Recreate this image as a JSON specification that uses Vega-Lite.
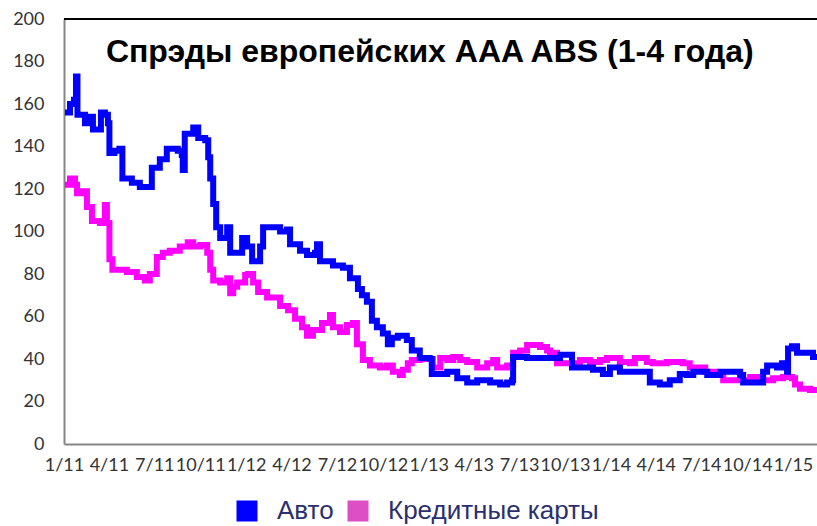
{
 "$schema": "https://vega.github.io/schema/vega-lite/v6.json",
 "width": 753, "height": 425,
 "autosize": {"type": "none"},
 "padding": {"left": 64, "top": 19, "right": 0, "bottom": 82},
 "background": "white",
 "config": {"view": {"stroke": null}},
 "datasets": {
  "auto": [
   {"date":"2011-01-03","v":156},{"date":"2011-01-13","v":160},{"date":"2011-01-21","v":162},{"date":"2011-01-25","v":173},{"date":"2011-01-28","v":155},
   {"date":"2011-02-12","v":151},{"date":"2011-02-22","v":154},{"date":"2011-02-28","v":148},{"date":"2011-03-08","v":148},{"date":"2011-03-16","v":156},
   {"date":"2011-03-24","v":155},{"date":"2011-03-30","v":151},{"date":"2011-04-02","v":137},{"date":"2011-04-12","v":138},{"date":"2011-04-22","v":139},
   {"date":"2011-04-28","v":125},{"date":"2011-05-17","v":123},{"date":"2011-06-02","v":121},{"date":"2011-06-22","v":121},{"date":"2011-06-26","v":130},
   {"date":"2011-07-12","v":134},{"date":"2011-07-26","v":139},{"date":"2011-08-17","v":138},{"date":"2011-08-25","v":136},{"date":"2011-08-27","v":129},
   {"date":"2011-08-31","v":146},{"date":"2011-09-17","v":149},{"date":"2011-09-27","v":144},{"date":"2011-10-11","v":143},{"date":"2011-10-17","v":135},
   {"date":"2011-10-21","v":125},{"date":"2011-10-27","v":113},{"date":"2011-11-02","v":102},{"date":"2011-11-10","v":97},{"date":"2011-11-24","v":102},
   {"date":"2011-11-30","v":90},{"date":"2011-12-14","v":90},{"date":"2011-12-24","v":97},{"date":"2012-01-03","v":93},{"date":"2012-01-13","v":86},
   {"date":"2012-01-23","v":86},{"date":"2012-01-29","v":93},{"date":"2012-02-04","v":102},{"date":"2012-02-22","v":102},{"date":"2012-03-09","v":100},
   {"date":"2012-03-23","v":101},{"date":"2012-03-29","v":94},{"date":"2012-04-18","v":91},{"date":"2012-05-02","v":89},{"date":"2012-05-18","v":90},
   {"date":"2012-05-22","v":94},{"date":"2012-05-28","v":86},{"date":"2012-06-23","v":84},{"date":"2012-07-13","v":83},{"date":"2012-07-27","v":78},
   {"date":"2012-08-12","v":73},{"date":"2012-08-20","v":70},{"date":"2012-08-30","v":67},{"date":"2012-09-09","v":58},{"date":"2012-09-19","v":55},
   {"date":"2012-10-01","v":52},{"date":"2012-10-11","v":47},{"date":"2012-10-19","v":50},{"date":"2012-10-31","v":51},{"date":"2012-11-18","v":49},
   {"date":"2012-11-28","v":44},{"date":"2012-12-14","v":40.5},{"date":"2013-01-03","v":40},{"date":"2013-01-07","v":33},{"date":"2013-01-24","v":33},
   {"date":"2013-02-07","v":34},{"date":"2013-02-27","v":31},{"date":"2013-03-19","v":29},{"date":"2013-04-08","v":30},{"date":"2013-05-04","v":29},
   {"date":"2013-05-24","v":28},{"date":"2013-06-07","v":29},{"date":"2013-06-17","v":30},{"date":"2013-06-19","v":41},{"date":"2013-07-17","v":40.5},
   {"date":"2013-08-26","v":40.5},{"date":"2013-09-21","v":42},{"date":"2013-10-07","v":42},{"date":"2013-10-15","v":36},{"date":"2013-10-31","v":36},
   {"date":"2013-11-26","v":35},{"date":"2013-12-16","v":33},{"date":"2013-12-30","v":36},{"date":"2014-01-19","v":34},{"date":"2014-02-28","v":34},
   {"date":"2014-03-14","v":34},{"date":"2014-03-20","v":29},{"date":"2014-04-09","v":28},{"date":"2014-04-29","v":30},{"date":"2014-05-13","v":30},
   {"date":"2014-05-19","v":33},{"date":"2014-06-02","v":32.5},{"date":"2014-06-15","v":34},{"date":"2014-07-13","v":32.5},{"date":"2014-08-08","v":34},
   {"date":"2014-09-17","v":32.5},{"date":"2014-09-23","v":29},{"date":"2014-10-17","v":29},{"date":"2014-11-02","v":34},{"date":"2014-11-10","v":37},
   {"date":"2014-11-30","v":36},{"date":"2014-12-10","v":38},{"date":"2014-12-20","v":34},{"date":"2014-12-22","v":45},{"date":"2014-12-30","v":46},
   {"date":"2015-01-09","v":43},{"date":"2015-02-04","v":43},{"date":"2015-02-10","v":41},{"date":"2015-02-18","v":42}
  ],
  "cards": [
   {"date":"2011-01-03","v":122},{"date":"2011-01-13","v":125},{"date":"2011-01-23","v":122},{"date":"2011-01-27","v":118},{"date":"2011-02-08","v":119},
   {"date":"2011-02-16","v":111.5},{"date":"2011-02-26","v":105},{"date":"2011-03-14","v":104},{"date":"2011-03-24","v":112.5},{"date":"2011-03-28","v":104},
   {"date":"2011-04-02","v":87},{"date":"2011-04-08","v":82},{"date":"2011-05-07","v":81},{"date":"2011-05-27","v":78.6},{"date":"2011-06-12","v":77},
   {"date":"2011-06-22","v":80},{"date":"2011-07-06","v":88},{"date":"2011-07-18","v":90},{"date":"2011-08-01","v":91},{"date":"2011-08-21","v":93},
   {"date":"2011-09-06","v":95},{"date":"2011-09-17","v":93},{"date":"2011-10-01","v":93.6},{"date":"2011-10-15","v":90},{"date":"2011-10-21","v":82},
   {"date":"2011-10-27","v":77},{"date":"2011-11-10","v":76},{"date":"2011-11-24","v":78},{"date":"2011-11-30","v":71},{"date":"2011-12-06","v":74},
   {"date":"2011-12-14","v":76},{"date":"2011-12-30","v":79.5},{"date":"2012-01-05","v":80},{"date":"2012-01-15","v":76},{"date":"2012-01-25","v":71.5},
   {"date":"2012-02-12","v":69},{"date":"2012-03-09","v":65},{"date":"2012-03-25","v":63},{"date":"2012-04-08","v":59},{"date":"2012-04-22","v":55},
   {"date":"2012-05-02","v":51},{"date":"2012-05-14","v":53.6},{"date":"2012-06-01","v":57},{"date":"2012-06-17","v":60.7},{"date":"2012-06-23","v":55},
   {"date":"2012-07-07","v":52.7},{"date":"2012-07-21","v":56},{"date":"2012-08-02","v":57},{"date":"2012-08-10","v":47},{"date":"2012-08-22","v":39.5},
   {"date":"2012-09-05","v":37},{"date":"2012-09-25","v":36},{"date":"2012-10-09","v":37},{"date":"2012-10-21","v":34},{"date":"2012-11-04","v":32.5},
   {"date":"2012-11-10","v":35},{"date":"2012-11-20","v":38},{"date":"2012-11-28","v":39.5},{"date":"2012-12-14","v":40},{"date":"2013-01-09","v":36},
   {"date":"2013-01-24","v":40.5},{"date":"2013-02-07","v":39.5},{"date":"2013-02-19","v":41},{"date":"2013-03-05","v":39.5},{"date":"2013-03-19","v":38.6},
   {"date":"2013-04-08","v":36},{"date":"2013-04-28","v":38},{"date":"2013-05-10","v":39.5},{"date":"2013-05-18","v":36},{"date":"2013-06-07","v":37},
   {"date":"2013-06-19","v":43},{"date":"2013-07-03","v":44},{"date":"2013-07-17","v":46.6},{"date":"2013-08-12","v":45.6},{"date":"2013-08-26","v":44},
   {"date":"2013-09-01","v":43},{"date":"2013-09-15","v":38},{"date":"2013-10-11","v":38},{"date":"2013-10-31","v":39.5},{"date":"2013-11-20","v":38.6},
   {"date":"2013-12-10","v":39.5},{"date":"2013-12-24","v":40.5},{"date":"2014-01-19","v":38.6},{"date":"2014-02-08","v":38},{"date":"2014-02-18","v":40.5},
   {"date":"2014-03-14","v":38.6},{"date":"2014-03-26","v":38},{"date":"2014-04-23","v":38.6},{"date":"2014-05-25","v":38},{"date":"2014-06-08","v":36},
   {"date":"2014-07-09","v":34},{"date":"2014-07-29","v":33},{"date":"2014-08-14","v":30},{"date":"2014-08-28","v":30},{"date":"2014-10-07","v":31.5},
   {"date":"2014-11-02","v":30},{"date":"2014-11-22","v":31},{"date":"2014-12-12","v":31.5},{"date":"2014-12-30","v":31},{"date":"2015-01-05","v":28},
   {"date":"2015-01-15","v":26},{"date":"2015-02-04","v":25.4},{"date":"2015-02-18","v":24.5}
  ]
 },
 "layer": [
  {
   "data": {"values": [{"top": 200}]},
   "mark": {"type": "rule", "color": "#000000", "strokeWidth": 2},
   "encoding": {"y": {"field": "top", "type": "quantitative", "scale": {"domain": [0, 200], "nice": false}}}
  },
  {
   "data": {"values": [{"t": "Спрэды европейских AAA ABS (1-4 года)", "date": "2013-01-03", "v": 179.8}]},
   "mark": {"type": "text", "font": "Liberation Sans", "fontSize": 32, "fontWeight": "bold", "color": "#000000", "align": "center", "baseline": "alphabetic"},
   "encoding": {
    "x": {"field": "date", "type": "temporal"},
    "y": {"field": "v", "type": "quantitative"},
    "text": {"field": "t"}
   }
  },
  {
   "data": {"name": "cards"},
   "transform": [{"fold": ["v"], "as": ["k", "value"]}, {"lookup": "k", "from": {"data": {"values": [{"k": "v", "series": "Кредитные карты"}]}, "key": "k", "fields": ["series"]}}],
   "mark": {"type": "line", "strokeWidth": 6, "interpolate": "step-after", "clip": true},
   "encoding": {
    "x": {"field": "date", "type": "temporal"},
    "y": {"field": "value", "type": "quantitative"},
    "color": {"field": "series", "type": "nominal"}
   }
  },
  {
   "data": {"name": "auto"},
   "transform": [{"fold": ["v"], "as": ["k", "value"]}, {"lookup": "k", "from": {"data": {"values": [{"k": "v", "series": "Авто"}]}, "key": "k", "fields": ["series"]}}],
   "mark": {"type": "line", "strokeWidth": 6, "interpolate": "step-after", "clip": true},
   "encoding": {
    "x": {"field": "date", "type": "temporal",
      "scale": {"type": "utc", "domain": [{"year": 2011, "month": 1, "date": 1, "utc": true}, {"year": 2015, "month": 2, "date": 18, "utc": true}]},
      "axis": {"title": null, "format": "%-m/%y",
        "values": [
          {"year": 2011, "month": 1, "date": 1, "utc": true}, {"year": 2011, "month": 4, "date": 1, "utc": true}, {"year": 2011, "month": 7, "date": 1, "utc": true}, {"year": 2011, "month": 10, "date": 1, "utc": true},
          {"year": 2012, "month": 1, "date": 1, "utc": true}, {"year": 2012, "month": 4, "date": 1, "utc": true}, {"year": 2012, "month": 7, "date": 1, "utc": true}, {"year": 2012, "month": 10, "date": 1, "utc": true},
          {"year": 2013, "month": 1, "date": 1, "utc": true}, {"year": 2013, "month": 4, "date": 1, "utc": true}, {"year": 2013, "month": 7, "date": 1, "utc": true}, {"year": 2013, "month": 10, "date": 1, "utc": true},
          {"year": 2014, "month": 1, "date": 1, "utc": true}, {"year": 2014, "month": 4, "date": 1, "utc": true}, {"year": 2014, "month": 7, "date": 1, "utc": true}, {"year": 2014, "month": 10, "date": 1, "utc": true},
          {"year": 2015, "month": 1, "date": 1, "utc": true}],
        "domainColor": "#868686", "domainWidth": 2, "ticks": false, "tickSize": 0, "grid": false,
        "labelPadding": 12, "labelFont": "Lato", "labelFontSize": 18, "labelColor": "#333333",
        "labelOverlap": false, "labelBound": false, "labelFlush": false}},
    "y": {"field": "value", "type": "quantitative",
      "scale": {"domain": [0, 200], "nice": false},
      "axis": {"title": null, "values": [0, 20, 40, 60, 80, 100, 120, 140, 160, 180, 200],
        "domainColor": "#868686", "domainWidth": 2, "ticks": false, "tickSize": 0, "grid": false,
        "labelPadding": 20, "labelFont": "Lato", "labelFontSize": 18, "labelColor": "#333333"}},
    "color": {"field": "series", "type": "nominal",
      "scale": {"domain": ["Авто", "Кредитные карты"], "range": ["#0000ff", "#ff00ff"]},
      "legend": {"orient": "none", "legendX": 170, "legendY": 479, "direction": "horizontal", "title": null,
        "symbolType": "square", "symbolSize": 441, "symbolStrokeWidth": 0,
        "labelFont": "Liberation Sans", "labelFontSize": 26, "labelColor": "#2b2f6e", "labelOffset": 17,
        "columnPadding": 11, "labelLimit": 400,
        "encode": {"symbols": {"update": {"fill": {"signal": "datum.value === 'Авто' ? '#0000ff' : '#dd4fc4'"}, "opacity": {"value": 1}}}}}}
   }
  }
 ]
}
